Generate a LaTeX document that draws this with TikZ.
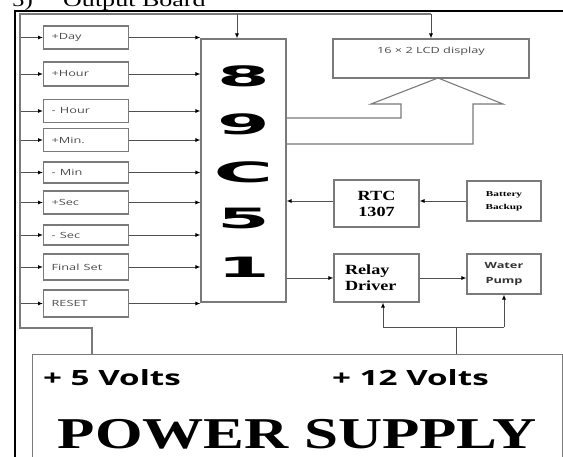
\documentclass[tikz,border=0pt]{standalone}
\usepackage{graphicx}
\usepackage{fontspec}
\setmainfont{Liberation Serif}
\newfontfamily\osans{Open Sans}
\newfontfamily\djv{DejaVu Sans}
\usetikzlibrary{arrows.meta}
\newcommand\hstretch[2]{\scalebox{#1}[1]{#2}}
\definecolor{boxgray}{HTML}{7A7A7A}
\definecolor{linegray}{HTML}{505050}
\tikzset{
  box/.style={draw=boxgray, line width=1.1pt, rectangle, inner sep=0pt},
  btn/.style={box, minimum width=85pt, minimum height=23pt, anchor=west, text width=69pt,
    inner xsep=8pt, align=left, font=\osans\fontsize{8.5}{9}\selectfont, text=black!70},
  conn/.style={draw=linegray, line width=0.9pt},
  arr/.style={conn, -{Latex[length=5pt,width=4pt,color=black]}},
  wire/.style={draw=boxgray, line width=1.1pt},
  digit/.style={font=\djv\bfseries\fontsize{28}{28}\selectfont, inner sep=0pt},
  sbold/.style={font=\bfseries\fontsize{14}{16}\selectfont, align=center},
  ttl/.style={anchor=base west, inner sep=0pt, font=\fontsize{19}{19}\selectfont},
}
\begin{document}
\begin{tikzpicture}[x=1pt,y=-1pt]
\useasboundingbox (0,0) rectangle (563,457);
% title (cut at the top edge, as in the reference)
\node[ttl] (t5) at (12,7) {\hstretch{1.3}{5)}};
\node[ttl] (tob) at (63,7) {\hstretch{1.37}{Output Board}};
% outer frame
\draw[line width=2.2pt] (15,470) -- (15,11) -- (570,11);
% bus
\coordinate (bus) at (20,14);
\coordinate (bl) at (20,328);
% microcontroller
\node[box, minimum width=85pt, minimum height=263pt] (mcu) at (243.5,170.5) {};
\node[digit] (d8) at (243.5,76) {\hstretch{2.7}{8}};
\node[digit] (d9) at (243.5,124) {\hstretch{2.7}{9}};
\node[digit] (dC) at (243.5,172) {\hstretch{2.9}{C}};
\node[digit] (d5) at (243.5,218) {\hstretch{2.7}{5}};
\node[digit] (d1) at (243.5,267) {\hstretch{2.7}{1}};
% buttons
\node[btn] (b1) at (43,37.5) {\hstretch{1.5}{+Day}};
\node[btn, minimum height=24pt] (b2) at (43,74) {\hstretch{1.5}{+Hour}};
\node[btn] (b3) at (43,111) {\hstretch{1.5}{- Hour}};
\node[btn] (b4) at (43,140) {\hstretch{1.5}{+Min.}};
\node[btn, minimum height=21pt] (b5) at (43,172.5) {\hstretch{1.5}{- Min}};
\node[btn] (b6) at (43,202.5) {\hstretch{1.5}{+Sec}};
\node[btn, minimum height=20pt] (b7) at (43,235) {\hstretch{1.5}{- Sec}};
\node[btn, minimum height=26pt] (b8) at (43,267) {\hstretch{1.5}{Final Set}};
\node[btn, minimum height=27pt] (b9) at (43,303.5) {\hstretch{1.5}{RESET}};
\foreach \b in {b1,b2,b3,b4,b5,b6,b7,b8,b9}{
  \draw[arr] (\b.west -| bus) -- (\b.west);
  \draw[arr] (\b.east) -- (\b.east -| mcu.west);
}
% LCD
\node[box, minimum width=196pt, minimum height=39pt] (lcd) at (431,58.5) {};
\node[font=\osans\fontsize{8.5}{9}\selectfont, text=black!70, inner sep=0pt] (lcdt) at (431,51) {\hstretch{1.5}{16 × 2 LCD display}};
% bus wire and top wire
\draw[wire] (lcd.north |- bus) -- (bus) -- (bl) -- (92,328) -- (92,354);
\draw[arr] ([xshift=-6.5pt]mcu.north |- bus) -- ([xshift=-6.5pt]mcu.north);
\draw[arr] (lcd.north |- bus) -- (lcd.north);
% hollow bus arrow to LCD
\draw[wire] (mcu.east |- 0,118) -- (401,118) -- (401,104) -- (371,104) -- (438,78)
  -- (503,104) -- (473,104) -- (473,144) -- (mcu.east |- 0,144);
% RTC and battery
\node[box, sbold, minimum width=85pt, minimum height=47pt] (rtc) at (376.5,203.5)
  {\hstretch{1.3}{RTC}\\\hstretch{1.3}{1307}};
\node[box, minimum width=74pt, minimum height=40pt, align=center,
  font=\bfseries\fontsize{7.5}{13}\selectfont] (bat) at (504,201)
  {\hstretch{1.5}{Battery}\\\hstretch{1.5}{Backup}};
\draw[arr] (bat.west) -- (bat.west -| rtc.east);
\draw[arr] (rtc.west |- bat.west) -- (bat.west -| mcu.east);
% relay and pump
\node[box, minimum width=85pt, minimum height=48pt, text width=63pt, inner xsep=11pt,
  align=left, font=\bfseries\fontsize{14}{16}\selectfont] (relay) at (376.5,278)
  {\hstretch{1.3}{Relay}\\\hstretch{1.3}{Driver}};
\node[box, minimum width=74pt, minimum height=40pt, align=center,
  font=\osans\bfseries\fontsize{8.5}{15}\selectfont, text=black!80] (pump) at (504,274)
  {\hstretch{1.5}{Water}\\\hstretch{1.5}{Pump}};
\draw[arr] (relay.west -| mcu.east) -- (relay.west);
\draw[arr] (relay.east) -- (relay.east -| pump.west);
% power supply
\node[box, minimum width=530pt, minimum height=130pt, anchor=north west] (ps) at (32,354) {};
\coordinate (sj) at (456,327);
\draw[conn] (ps.north -| sj) -- (sj);
\draw[conn] ([xshift=6.5pt]relay.south |- sj) -- (pump.south |- sj);
\draw[arr] ([xshift=6.5pt]relay.south |- sj) -- ([xshift=6.5pt]relay.south);
\draw[arr] (pump.south |- sj) -- (pump.south);
\node[anchor=base west, inner sep=0pt, font=\osans\bfseries\fontsize{21}{21}\selectfont] (v5) at (43,385) {\hstretch{1.58}{+ 5 Volts}};
\node[anchor=base west, inner sep=0pt, font=\osans\bfseries\fontsize{21}{21}\selectfont] (v12) at (332,385) {\hstretch{1.58}{+ 12 Volts}};
\node[anchor=base west, inner sep=0pt, font=\bfseries\fontsize{44}{44}\selectfont] (pst) at (57.5,448) {\hstretch{1.39}{POWER SUPPLY}};
\end{tikzpicture}
\end{document}
